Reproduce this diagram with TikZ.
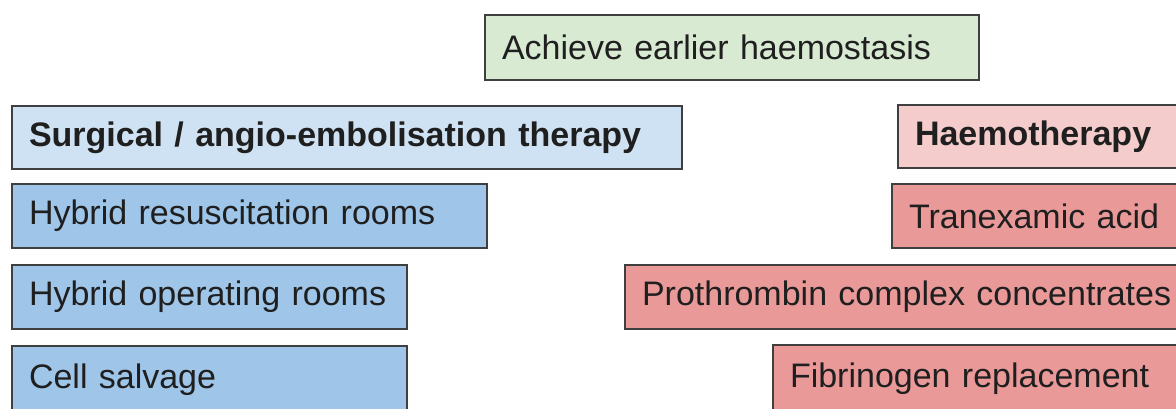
\documentclass[tikz,border=0pt]{standalone}
\usepackage{fontspec}
\setmainfont{Liberation Sans}
\usepackage{xcolor}
\usepackage{tikz}
\usetikzlibrary{positioning}

\definecolor{edgegray}{HTML}{3F3F3F}
\definecolor{goalgreen}{HTML}{D9EAD3}
\definecolor{headblue}{HTML}{CFE2F3}
\definecolor{itemblue}{HTML}{9FC5E8}
\definecolor{headred}{HTML}{F4CCCC}
\definecolor{itemred}{HTML}{EA9999}

\tikzset{
  box/.style={draw=edgegray, line width=2pt, anchor=north west, outer sep=0pt,
    inner xsep=17pt, inner ysep=0pt, align=left, minimum height=63pt,
    text=black!88, font=\fontsize{34}{40}\selectfont},
  goal/.style={box, fill=goalgreen},
  surghead/.style={box, fill=headblue, font=\fontsize{34}{40}\selectfont\bfseries},
  surgitem/.style={box, fill=itemblue},
  haemhead/.style={box, fill=headred, font=\fontsize{34}{40}\selectfont\bfseries},
  haemitem/.style={box, fill=itemred}
}

\begin{document}
\begin{tikzpicture}[x=1pt, y=-1pt]

  \useasboundingbox (0,0) rectangle (1176,408);
  \clip (0,0) rectangle (1176,408);

  \node[goal, text width=460pt, minimum height=65pt] (aim) at (485,15) {Achieve earlier haemostasis};

  % surgical side
  \node[surghead, text width=636pt] (surg) at (12,106) {Surgical / angio-embolisation therapy};
  \node[surgitem, text width=441pt, minimum height=64pt] (hybres) at (12,184) {Hybrid resuscitation rooms};
  \node[surgitem, text width=361pt, minimum height=64pt] (hybop) at (12,265) {Hybrid operating rooms};
  \node[surgitem, text width=361pt, minimum height=68pt] (cell) at (12,346) {Cell salvage\strut};

  % haemotherapy side
  \node[haemhead, text width=266pt] (haem) at (898,105) {Haemotherapy};
  \node[haemitem, text width=276pt, minimum height=64pt] (txa) at (892,184) {Tranexamic acid};
  \node[haemitem, text width=546pt, minimum height=64pt] (pcc) at (625,265) {Prothrombin complex concentrates};
  \node[haemitem, text width=396pt, minimum height=68pt] (fib) at (773,345) {Fibrinogen replacement\strut};

\end{tikzpicture}
\end{document}
